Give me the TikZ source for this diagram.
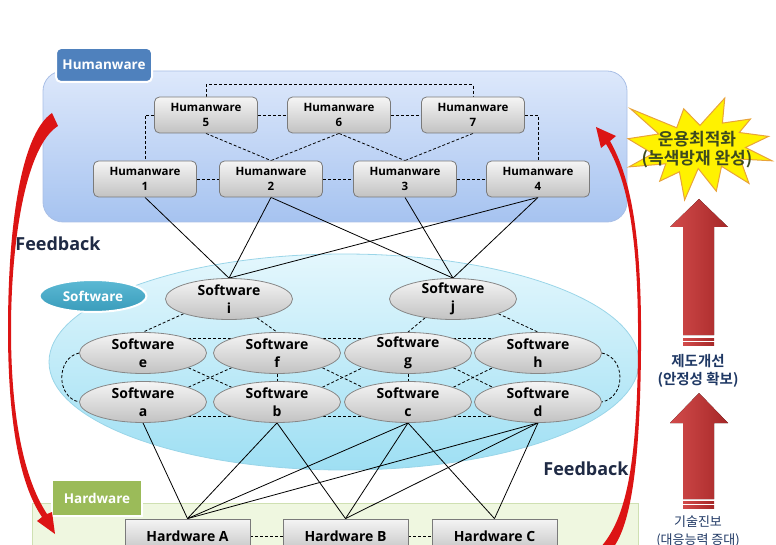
\documentclass[tikz,border=0pt]{standalone}
\usepackage{fontspec}
\setmainfont{Open Sans}
\newfontfamily\kr{Noto Sans CJK KR}[BoldFont={Noto Sans CJK KR Bold}]
\usetikzlibrary{shapes.geometric}
\pgfdeclarelayer{back}
\pgfdeclarelayer{mid}
\pgfsetlayers{back,mid,main}
\definecolor{hwTop}{HTML}{DDE8FB}
\definecolor{hwBot}{HTML}{A6C3F0}
\definecolor{hwEdge}{HTML}{A9BFE6}
\definecolor{swTop}{HTML}{E4F7FD}
\definecolor{swBot}{HTML}{9EDFF3}
\definecolor{swEdge}{HTML}{9AD5E8}
\definecolor{hdFill}{HTML}{EFF7E0}
\definecolor{hdEdge}{HTML}{CFE0B2}
\definecolor{tabBlue}{HTML}{4F81BD}
\definecolor{tabTealT}{HTML}{5BB9D4}
\definecolor{tabTealB}{HTML}{3A9CBB}
\definecolor{tabGreen}{HTML}{9BBB59}
\definecolor{boxTop}{HTML}{F5F5F5}
\definecolor{boxBot}{HTML}{C2C2C2}
\definecolor{boxEdge}{HTML}{7A7A7A}
\definecolor{fbRed}{HTML}{DC1414}
\definecolor{arrL}{HTML}{D24B4B}
\definecolor{arrR}{HTML}{A62828}
\definecolor{fbText}{HTML}{1F2A44}
\definecolor{krBlue}{HTML}{1F3864}
\definecolor{burstEdge}{HTML}{E8A33A}
\definecolor{burstText}{HTML}{3D4A1F}
\begin{document}
\begin{tikzpicture}[x=1pt,y=-1pt,
  hbox/.style={draw=boxEdge, line width=0.8pt, rounded corners=5pt, top color=boxTop, bottom color=boxBot,
    minimum width=103pt, minimum height=36pt, inner sep=0pt, align=center,
    font=\bfseries\fontsize{11.5}{15}\selectfont},
  sbox/.style={ellipse, draw=boxEdge!90, line width=0.8pt, top color=boxTop, bottom color=boxBot,
    minimum width=127pt, minimum height=41pt, inner xsep=0pt, inner ysep=-4pt, align=center,
    font=\bfseries\fontsize{14}{18}\selectfont},
  dbox/.style={draw=boxEdge, line width=0.8pt, top color=boxTop, bottom color=boxBot,
    minimum width=125pt, minimum height=34pt, inner sep=0pt,
    font=\bfseries\fontsize{14}{16}\selectfont},
  tabbox/.style={draw=white, line width=2pt, text=white, inner sep=0pt,
    font=\bfseries\fontsize{13.5}{15}\selectfont},
  conn/.style={black, line width=0.8pt},
  dsh/.style={black, line width=0.8pt, dash pattern=on 3pt off 2pt},
  fbtxt/.style={text=fbText, font=\bfseries\fontsize{18}{20}\selectfont, inner sep=0pt},
]
\useasboundingbox (0,0) rectangle (776,545);

% ---------- nodes ----------
\node[hbox] (h5) at (206,115) {Humanware\\5};
\node[hbox] (h6) at (339,115) {Humanware\\6};
\node[hbox] (h7) at (473,115) {Humanware\\7};
\node[hbox] (h1) at (145,179) {Humanware\\1};
\node[hbox] (h2) at (271,179) {Humanware\\2};
\node[hbox] (h3) at (405,179) {Humanware\\3};
\node[hbox] (h4) at (538,179) {Humanware\\4};

\node[sbox] (si) at (229,299) {Software\\i};
\node[sbox] (sj) at (453,299) {Software\\j};
\node[sbox] (se) at (143,353) {Software\\e};
\node[sbox] (sf) at (277,353) {Software\\f};
\node[sbox] (sg) at (408,353) {Software\\g};
\node[sbox] (sh) at (538,353) {Software\\h};
\node[sbox] (sa) at (143,402) {Software\\a};
\node[sbox] (sb) at (277,402) {Software\\b};
\node[sbox] (sc) at (408,402) {Software\\c};
\node[sbox] (sd) at (538,402) {Software\\d};

\node[dbox] (ha) at (187.5,536) {Hardware A};
\node[dbox] (hb) at (345.5,536) {Hardware B};
\node[dbox] (hc) at (494.5,536) {Hardware C};

% ---------- panels ----------
\begin{pgfonlayer}{back}
  \draw[draw=hwEdge, line width=0.8pt, top color=hwTop, bottom color=hwBot, rounded corners=20pt]
    (43,71) rectangle (627,222);
  \draw[draw=swEdge, line width=0.8pt, top color=swTop, bottom color=swBot]
    (344,362) ellipse [x radius=295, y radius=108];
  \draw[draw=hdEdge, line width=0.8pt, fill=hdFill] (32,503) rectangle (638,570);
\end{pgfonlayer}

% ---------- connectors ----------
\begin{pgfonlayer}{mid}
  % humanware dashed
  \draw[dsh] (h5.north) -- ++(0,-12) -| (h7.north);
  \draw[dsh] (h5.west) -| (h1.north);
  \draw[dsh] (h7.east) -| (h4.north);
  \draw[dsh] (h5.east) -- (h6.west);
  \draw[dsh] (h6.east) -- (h7.west);
  \draw[dsh] (h1.east) -- (h2.west);
  \draw[dsh] (h2.east) -- (h3.west);
  \draw[dsh] (h3.east) -- (h4.west);
  \draw[dsh] (h5.south) -- (h2.north);
  \draw[dsh] (h6.south) -- (h2.north);
  \draw[dsh] (h6.south) -- (h3.north);
  \draw[dsh] (h7.south) -- (h3.north);
  % humanware -> software
  \draw[conn] (h1.south) -- (si.north);
  \draw[conn] (h2.south) -- (si.north);
  \draw[conn] (h2.south) -- (sj.north);
  \draw[conn] (h3.south) -- (sj.north);
  \draw[conn] (h4.south) -- (si.north);
  \draw[conn] (h4.south) -- (sj.north);
  % software dashed
  \draw[dsh] (si.198) -- (se.north);
  \draw[dsh] (si.-34) -- (sf.north);
  \draw[dsh] (sj.214) -- (sg.north);
  \draw[dsh] (sj.-18) -- (sh.north);
  \draw[dsh] ([yshift=15pt]se.center) -- ([yshift=15pt]sh.center);
  \draw[dsh] ([yshift=-14pt]sa.center) -- ([yshift=-14pt]sd.center);
  \draw[dsh] (se.-18) -- (sb.162);
  \draw[dsh] (sa.18) -- (sf.198);
  \draw[dsh] (sf.-18) -- (sc.162);
  \draw[dsh] (sb.18) -- (sg.198);
  \draw[dsh] (sg.-18) -- (sd.162);
  \draw[dsh] (sc.18) -- (sh.198);
  \draw[dsh] (sf.south) -- (sb.north);
  \draw[dsh] (sg.south) -- (sc.north);
  \draw[dsh] (se.west) .. controls (56,358) and (56,397) .. (sa.west);
  \draw[dsh] (sh.east) .. controls (626,358) and (626,397) .. (sd.east);
  % software -> hardware
  \draw[conn] (sa.south) -- (ha.north);
  \draw[conn] (sb.south) -- (ha.north);
  \draw[conn] (sb.south) -- (hb.north);
  \draw[conn] (sc.south) -- (ha.north);
  \draw[conn] (sc.south) -- (hb.north);
  \draw[conn] (sc.south) -- (hc.north);
  \draw[conn] (sd.south) -- (ha.north);
  \draw[conn] (sd.south) -- (hb.north);
  \draw[conn] (sd.south) -- (hc.north);
  % hardware dashed
  \draw[dsh] (ha.east) -- (hb.west);
  \draw[dsh] (hb.east) -- (hc.west);
\end{pgfonlayer}

% ---------- tabs ----------
\node[tabbox, fill=tabBlue, rounded corners=5pt, minimum width=96pt, minimum height=34pt] (tabh) at (104,65) {Humanware};
\node[tabbox, ellipse, top color=tabTealT, bottom color=tabTealB, minimum width=107pt, minimum height=32pt] (tabs) at (93,296) {Software};
\node[tabbox, fill=tabGreen, minimum width=90pt, minimum height=36pt] (tabd) at (97,498) {Hardware};

% ---------- feedback arrows ----------
\fill[fbRed] (52,113) .. controls (20,135) and (8,230) .. (8,330)
  .. controls (8,430) and (22,488) .. (42,517)
  -- (37,521) -- (55,534) -- (52,512) -- (47,514)
  .. controls (28,485) and (11,430) .. (11,330)
  .. controls (11,240) and (26,146) .. (58,126) -- cycle;
\fill[fbRed] (600,548) .. controls (625,520) and (637,470) .. (638,350)
  .. controls (639,240) and (628,180) .. (606,144)
  -- (601,148) -- (596,127) -- (616,136) -- (610,141)
  .. controls (632,180) and (642,240) .. (641,350)
  .. controls (640,470) and (630,525) .. (613,548) -- cycle;
\node[fbtxt] (fbl) at (58,244) {Feedback};
\node[fbtxt] (fbr) at (586,469) {Feedback};

% ---------- starburst ----------
\draw[draw=burstEdge, line width=1pt, fill=yellow]
  (700,125.4) -- (724.8,98) -- (722.4,123.1) -- (750.5,119.0) -- (739.3,132.5)
  -- (768.6,136.4) -- (745.4,147.5) -- (772,160.8) -- (740.2,159.1) -- (749.0,183.4)
  -- (721.5,166.3) -- (716.3,191.2) -- (698.2,168.5) -- (684.6,200) -- (679.4,171.8)
  -- (659.7,181.2) -- (665.8,163.8) -- (628.9,166.9) -- (652.8,153.6) -- (628,138.7)
  -- (658.8,134.0) -- (630.5,108.8) -- (676.7,127.8) -- (683.7,108.8) -- cycle;
\node[align=center, text=burstText, font=\kr\bfseries\fontsize{17}{19}\selectfont] (burst) at (697,150)
  {운용최적화\\(녹색방재 완성)};

% ---------- big arrows ----------
\fill[left color=arrL, right color=arrR] (683,227) -- (670,227) -- (699,199) -- (728,227) -- (714,227)
  -- (714,335) -- (683,335) -- cycle;
\fill[left color=arrL, right color=arrR] (683,338) rectangle (714,340);
\fill[left color=arrL, right color=arrR] (683,342) rectangle (714,345);
\node[align=center, text=krBlue, font=\kr\bfseries\fontsize{14.5}{18}\selectfont] (mid) at (698,371)
  {제도개선\\(안정성 확보)};
\fill[left color=arrL, right color=arrR] (683,423) -- (670,423) -- (699,393) -- (728,423) -- (714,423)
  -- (714,499) -- (683,499) -- cycle;
\fill[left color=arrL, right color=arrR] (683,501) rectangle (714,503);
\fill[left color=arrL, right color=arrR] (683,505) rectangle (714,508);
\node[align=center, text=krBlue, font=\kr\fontsize{13}{18}\selectfont] (low) at (698,531)
  {기술진보\\(대응능력 증대)};
\end{tikzpicture}
\end{document}
